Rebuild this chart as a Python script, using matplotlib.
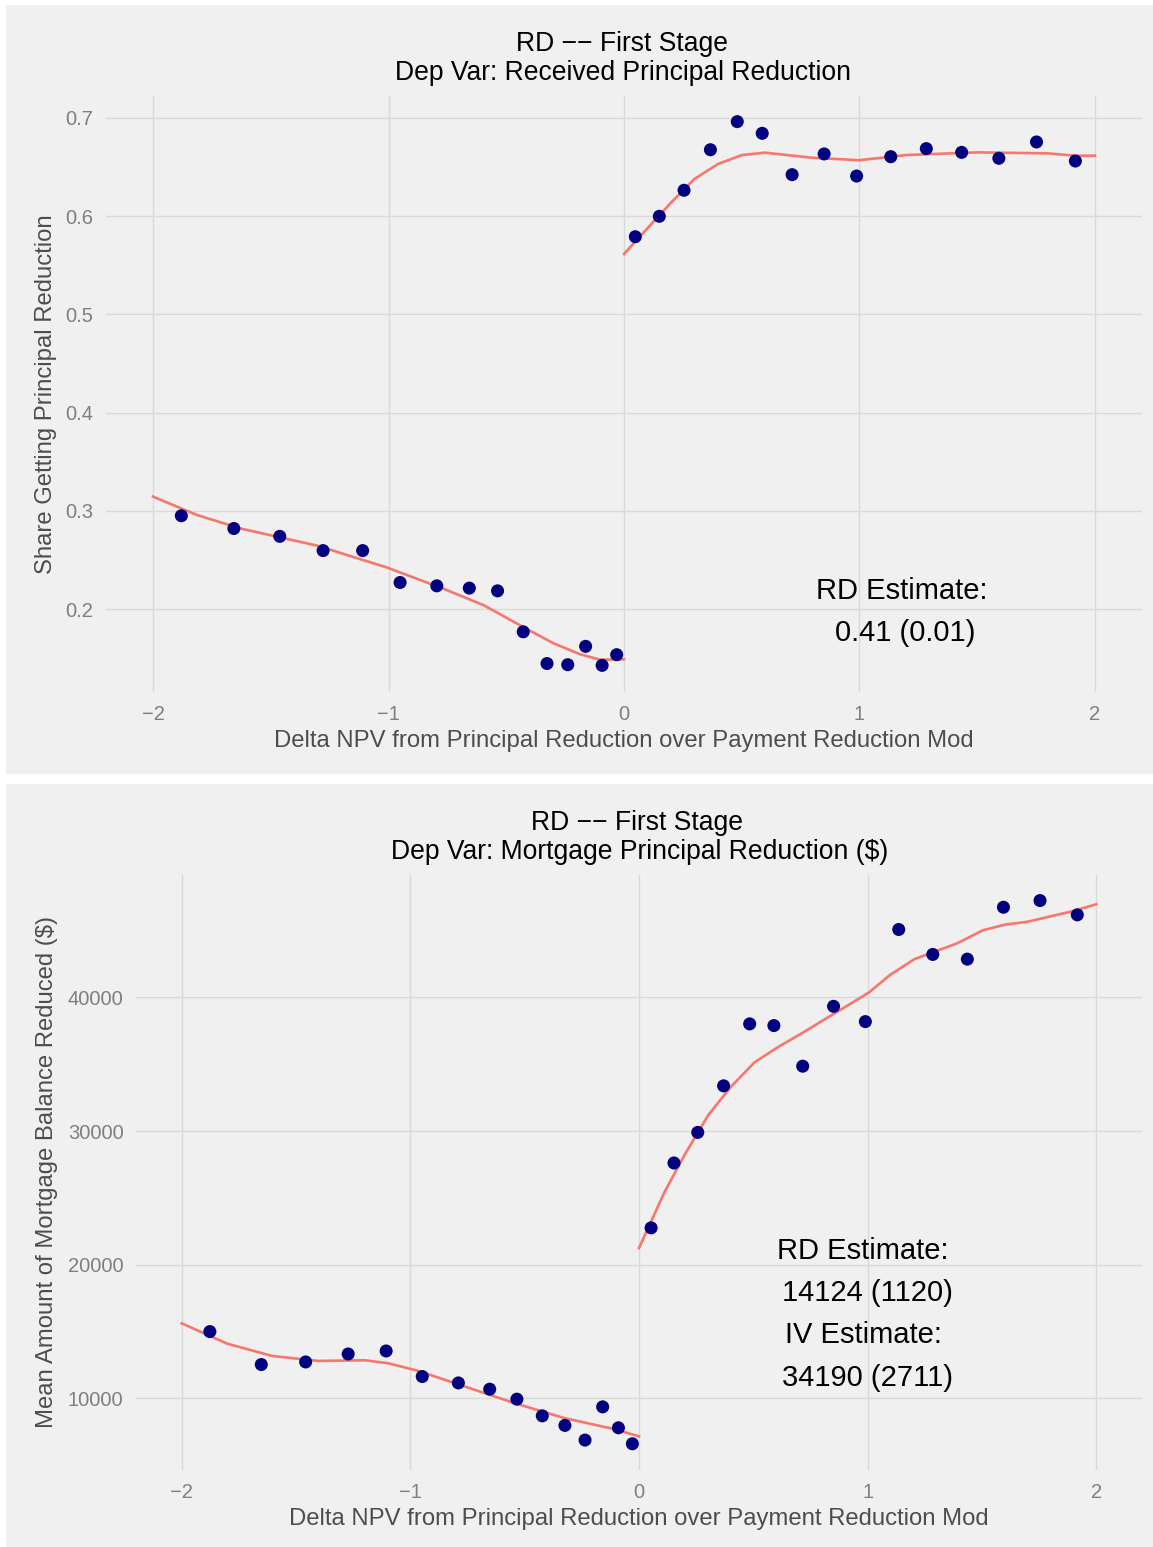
import matplotlib
matplotlib.use("Agg")
import matplotlib.pyplot as plt
from matplotlib.patches import Rectangle

plt.rcParams['font.family'] = ['Liberation Sans', 'DejaVu Sans']

# ---------------- Data: panel 1 (share receiving principal reduction) ----------------
p1_bin_x = [-1.880, -1.657, -1.462, -1.278, -1.110, -0.951, -0.795, -0.657, -0.537,
            -0.428, -0.327, -0.239, -0.163, -0.093, -0.031,
            0.048, 0.150, 0.255, 0.367, 0.481, 0.587, 0.714, 0.850, 0.988,
            1.133, 1.284, 1.434, 1.592, 1.752, 1.917]
p1_bin_y = [0.295, 0.282, 0.274, 0.2595, 0.2595, 0.227, 0.2236, 0.2213, 0.2185,
            0.1768, 0.1445, 0.1433, 0.162, 0.1426, 0.1535,
            0.5791, 0.5999, 0.6264, 0.6677, 0.6963, 0.6844, 0.6423, 0.6634, 0.6409,
            0.6606, 0.6688, 0.665, 0.659, 0.6756, 0.6562]
p1_fit_left_x = [-2.0, -1.813, -1.629, -1.304, -1.007, -0.766, -0.597, -0.427, -0.300, -0.187, -0.102, 0.0]
p1_fit_left_y = [0.3144, 0.2957, 0.282, 0.2646, 0.2423, 0.2206, 0.204, 0.1815, 0.1652, 0.154, 0.1484, 0.1488]
p1_fit_right_x = [0.0, 0.093, 0.197, 0.299, 0.400, 0.501, 0.598, 0.796, 0.998, 1.2, 1.499, 1.799, 1.918, 2.0]
p1_fit_right_y = [0.5615, 0.586, 0.6131, 0.6379, 0.6532, 0.6623, 0.6647, 0.6596, 0.657, 0.6623, 0.665, 0.664, 0.6616, 0.6616]
p1_yticks = [0.2, 0.3, 0.4, 0.5, 0.6, 0.7]
p1_ytick_labels = ["0.2", "0.3", "0.4", "0.5", "0.6", "0.7"]
p1_annot = ["RD Estimate:", "0.41 (0.01)"]

# ---------------- Data: panel 2 (amount of principal reduced) ----------------
p2_bin_x = [-1.877, -1.652, -1.458, -1.272, -1.106, -0.948, -0.790, -0.653, -0.534,
            -0.423, -0.324, -0.236, -0.159, -0.090, -0.029,
            0.053, 0.153, 0.257, 0.370, 0.484, 0.590, 0.716, 0.851, 0.990,
            1.136, 1.285, 1.436, 1.594, 1.754, 1.917]
p2_bin_y = [15000, 12537, 12731, 13328, 13552, 11642, 11164, 10694, 9948,
            8701, 7985, 6888, 9373, 7806, 6612,
            22761, 27612, 29900, 33381, 38015, 37888, 34851, 39328, 38186,
            45075, 43209, 42858, 46739, 47239, 46172]
p2_fit_left_x = [-2.0, -1.802, -1.605, -1.402, -1.199, -1.097, -0.965, -0.762, -0.544, -0.326, -0.108, 0.0]
p2_fit_left_y = [15620, 14104, 13180, 12806, 12858, 12634, 12060, 10896, 9649, 8530, 7709, 7164]
p2_fit_right_x = [0.0, 0.111, 0.204, 0.304, 0.403, 0.504, 0.604, 0.712, 1.004, 1.097, 1.205,
                  1.390, 1.505, 1.604, 1.696, 1.896, 2.0]
p2_fit_right_y = [21246, 25418, 28358, 31216, 33328, 35119, 36239, 37313, 40343, 41664, 42858,
                  44030, 45022, 45448, 45642, 46440, 46963]
p2_yticks = [10000, 20000, 30000, 40000]
p2_ytick_labels = ["10000", "20000", "30000", "40000"]
p2_annot = ["RD Estimate:", "14124 (1120)", "IV Estimate:", "34190 (2711)"]

xticks = [-2, -1, 0, 1, 2]
xtick_labels = ["\u22122", "\u22121", "0", "1", "2"]

title1 = "RD \u2212\u2212 First Stage"
sub1 = "Dep Var: Received Principal Reduction"
sub2 = "Dep Var: Mortgage Principal Reduction ($)"
xlab = "Delta NPV from Principal Reduction over Payment Reduction Mod"
ylab1 = "Share Getting Principal Reduction"
ylab2 = "Mean Amount of Mortgage Balance Reduced ($)"

# ---------------- Styling ----------------
W, H = 1153, 1547
BG = "#F0F0F0"
GRID = "#D9D9D9"
PT_COL = "#000080"
LINE_COL = "#F8766D"
TICK_COL = "#7F7F7F"
LAB_COL = "#4D4D4D"
TITLE_FS = 19.1
LAB_FS = 17.2
ANN_FS = 21
TICK_FS = 14.5

fig = plt.figure(figsize=(W / 100, H / 100), dpi=100, facecolor="white")

def fx(px):
    return px / W

def fy(py):
    return 1 - py / H

# panel backgrounds
fig.patches.append(Rectangle((fx(6), fy(774)), fx(W - 6), (774 - 5) / H,
                             transform=fig.transFigure, facecolor=BG, edgecolor="none", zorder=-10))
fig.patches.append(Rectangle((fx(6), fy(1547)), fx(W - 6), (1547 - 784) / H,
                             transform=fig.transFigure, facecolor=BG, edgecolor="none", zorder=-10))


def make_axes(left_px, top_px, right_px, bottom_px):
    ax = fig.add_axes([fx(left_px), fy(bottom_px), fx(right_px - left_px), (bottom_px - top_px) / H])
    ax.set_zorder(1)
    ax.set_facecolor(BG)
    for s in ax.spines.values():
        s.set_visible(False)
    ax.grid(True, color=GRID, linewidth=1.0)
    ax.set_axisbelow(True)
    ax.tick_params(length=0, labelsize=TICK_FS, labelcolor=TICK_COL, pad=9)
    ax.tick_params(axis='x', pad=9.5)
    return ax


# ---------------- Panel 1 ----------------
ax1 = make_axes(106, 96, 1142, 692)
ax1.set_xlim(-2.2, 2.2)
ax1.set_ylim(0.1155, 0.7224)
ax1.set_xticks(xticks)
ax1.set_xticklabels(xtick_labels)
ax1.set_yticks(p1_yticks)
ax1.set_yticklabels(p1_ytick_labels)
ax1.plot(p1_fit_left_x, p1_fit_left_y, color=LINE_COL, lw=1.9, zorder=2)
ax1.plot(p1_fit_right_x, p1_fit_right_y, color=LINE_COL, lw=1.9, zorder=2)
ax1.scatter(p1_bin_x, p1_bin_y, s=88, color=PT_COL, edgecolors="none", zorder=3)
ax1.text(1.18, 0.2184, p1_annot[0], fontsize=ANN_FS, ha="center", va="center", color="black")
ax1.text(1.196, 0.1756, p1_annot[1], fontsize=ANN_FS, ha="center", va="center", color="black")

fig.text(fx(622), fy(51), title1, fontsize=TITLE_FS, ha="center", va="baseline", color="black")
fig.text(fx(623), fy(80), sub1, fontsize=TITLE_FS, ha="center", va="baseline", color="black")
fig.text(fx(624), fy(747), xlab, fontsize=LAB_FS, ha="center", va="baseline", color=LAB_COL)
fig.text(fx(46), fy(394), ylab1, fontsize=LAB_FS, ha="center", va="center", rotation=90, color=LAB_COL)

# ---------------- Panel 2 ----------------
ax2 = make_axes(136, 875, 1142, 1470)
ax2.set_xlim(-2.2, 2.2)
ax2.set_ylim(4650, 49150)
ax2.set_xticks(xticks)
ax2.set_xticklabels(xtick_labels)
ax2.set_yticks(p2_yticks)
ax2.set_yticklabels(p2_ytick_labels)
ax2.plot(p2_fit_left_x, p2_fit_left_y, color=LINE_COL, lw=1.9, zorder=2)
ax2.plot(p2_fit_right_x, p2_fit_right_y, color=LINE_COL, lw=1.9, zorder=2)
ax2.scatter(p2_bin_x, p2_bin_y, s=88, color=PT_COL, edgecolors="none", zorder=3)
ann_px = [(863, 1251), (867, 1293), (863, 1335), (867, 1378)]
for (px, py), txt in zip(ann_px, p2_annot):
    fig.text(fx(px), fy(py), txt, fontsize=ANN_FS, ha="center", va="center", color="black", zorder=5)

fig.text(fx(637), fy(830), title1, fontsize=TITLE_FS, ha="center", va="baseline", color="black")
fig.text(fx(640), fy(859), sub2, fontsize=TITLE_FS, ha="center", va="baseline", color="black")
fig.text(fx(639), fy(1525), xlab, fontsize=LAB_FS, ha="center", va="baseline", color=LAB_COL)
fig.text(fx(47), fy(1172), ylab2, fontsize=LAB_FS, ha="center", va="center", rotation=90, color=LAB_COL)

fig.savefig("out.png", dpi=100, facecolor="white")
